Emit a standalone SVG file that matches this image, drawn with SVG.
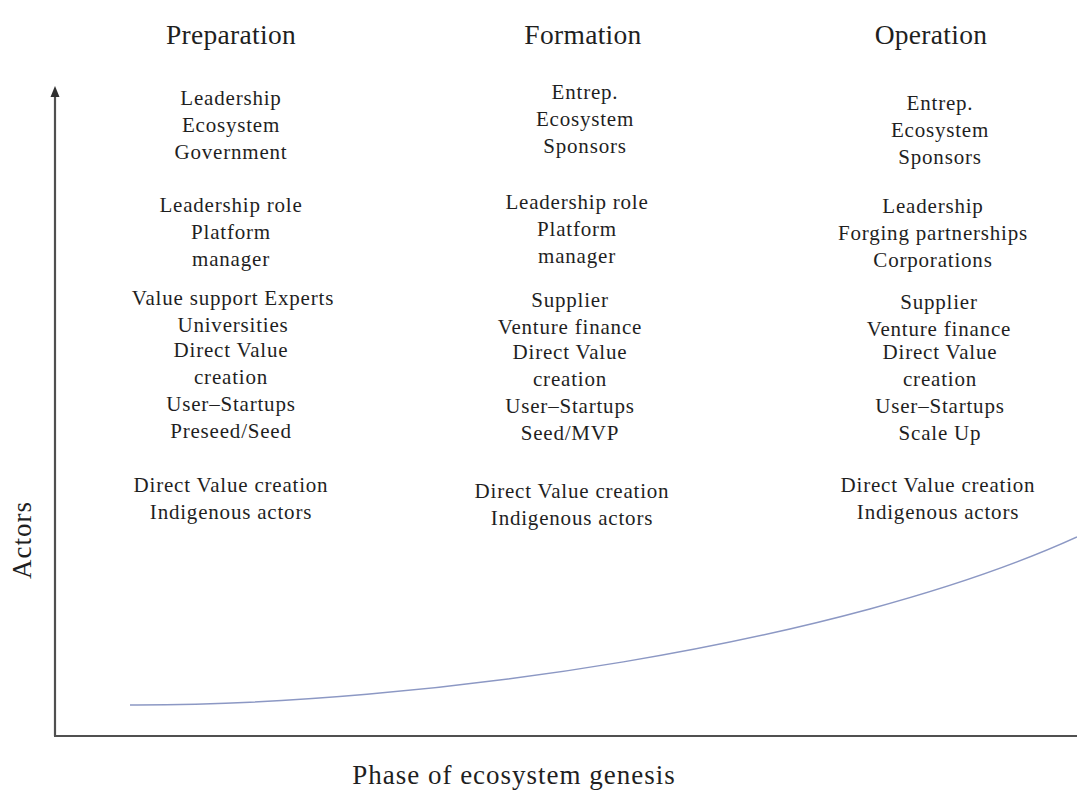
<svg xmlns="http://www.w3.org/2000/svg" width="1077" height="795" viewBox="0 0 1077 795">
  <style>
    text { font-family: "Liberation Serif", "Times New Roman", serif; fill: #1f1f1f; text-anchor: middle; }
    .head { font-size: 27.5px; letter-spacing: 0.3px; }
    .lbl { font-size: 21px; letter-spacing: 0.8px; }
    .axis-title { font-size: 27px; letter-spacing: 1px; }
    .axis { stroke: #505050; stroke-width: 2.2; fill: none; }
    .curve { stroke: #8c98c4; stroke-width: 1.5; fill: none; }
  </style>
  <rect width="1077" height="795" fill="#ffffff"/>

  <!-- axes and growth curve -->
  <g id="connectors">
    <path class="axis" d="M55,736 L55,92"/>
    <path d="M50.5,97 L55,86 L59.5,97 Z" fill="#303030"/>
    <path class="axis" d="M54,736 L1077,736"/>
    <path class="curve" d="M130,705 C420,706 840,645 1077,537"/>
  </g>

  <!-- axis titles -->
  <g id="axis-labels">
    <text class="axis-title" transform="translate(31,540) rotate(-90)">Actors</text>
    <text class="axis-title" x="514" y="784">Phase of ecosystem genesis</text>
  </g>

  <!-- phase headers -->
  <g id="headers">
    <text class="head" x="231" y="44">Preparation</text>
    <text class="head" x="583" y="44">Formation</text>
    <text class="head" x="931" y="44">Operation</text>
  </g>

  <!-- Preparation column -->
  <g id="prep-leadership">
    <text class="lbl" x="231" y="105">Leadership</text>
    <text class="lbl" x="231" y="132">Ecosystem</text>
    <text class="lbl" x="231" y="159">Government</text>
  </g>
  <g id="prep-platform">
    <text class="lbl" x="231" y="212">Leadership role</text>
    <text class="lbl" x="231" y="239">Platform</text>
    <text class="lbl" x="231" y="266">manager</text>
  </g>
  <g id="prep-support">
    <text class="lbl" x="233" y="305">Value support Experts</text>
    <text class="lbl" x="233" y="332">Universities</text>
  </g>
  <g id="prep-direct">
    <text class="lbl" x="231" y="357">Direct Value</text>
    <text class="lbl" x="231" y="384">creation</text>
    <text class="lbl" x="231" y="411">User–Startups</text>
    <text class="lbl" x="231" y="438">Preseed/Seed</text>
  </g>
  <g id="prep-indigenous">
    <text class="lbl" x="231" y="492">Direct Value creation</text>
    <text class="lbl" x="231" y="519">Indigenous actors</text>
  </g>

  <!-- Formation column -->
  <g id="form-sponsors">
    <text class="lbl" x="585" y="99">Entrep.</text>
    <text class="lbl" x="585" y="126">Ecosystem</text>
    <text class="lbl" x="585" y="153">Sponsors</text>
  </g>
  <g id="form-platform">
    <text class="lbl" x="577" y="209">Leadership role</text>
    <text class="lbl" x="577" y="236">Platform</text>
    <text class="lbl" x="577" y="263">manager</text>
  </g>
  <g id="form-supplier">
    <text class="lbl" x="570" y="307">Supplier</text>
    <text class="lbl" x="570" y="334">Venture finance</text>
  </g>
  <g id="form-direct">
    <text class="lbl" x="570" y="359">Direct Value</text>
    <text class="lbl" x="570" y="386">creation</text>
    <text class="lbl" x="570" y="413">User–Startups</text>
    <text class="lbl" x="570" y="440">Seed/MVP</text>
  </g>
  <g id="form-indigenous">
    <text class="lbl" x="572" y="498">Direct Value creation</text>
    <text class="lbl" x="572" y="525">Indigenous actors</text>
  </g>

  <!-- Operation column -->
  <g id="op-sponsors">
    <text class="lbl" x="940" y="110">Entrep.</text>
    <text class="lbl" x="940" y="137">Ecosystem</text>
    <text class="lbl" x="940" y="164">Sponsors</text>
  </g>
  <g id="op-leadership">
    <text class="lbl" x="933" y="213">Leadership</text>
    <text class="lbl" x="933" y="240">Forging partnerships</text>
    <text class="lbl" x="933" y="267">Corporations</text>
  </g>
  <g id="op-supplier">
    <text class="lbl" x="939" y="309">Supplier</text>
    <text class="lbl" x="939" y="336">Venture finance</text>
  </g>
  <g id="op-direct">
    <text class="lbl" x="940" y="359">Direct Value</text>
    <text class="lbl" x="940" y="386">creation</text>
    <text class="lbl" x="940" y="413">User–Startups</text>
    <text class="lbl" x="940" y="440">Scale Up</text>
  </g>
  <g id="op-indigenous">
    <text class="lbl" x="938" y="492">Direct Value creation</text>
    <text class="lbl" x="938" y="519">Indigenous actors</text>
  </g>
</svg>
